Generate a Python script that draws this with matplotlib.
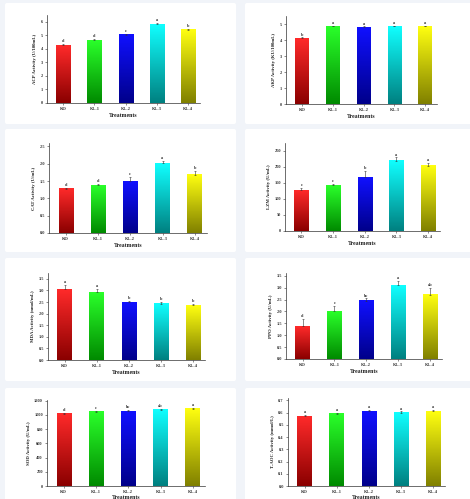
import numpy as np
import matplotlib
matplotlib.use('Agg')
import matplotlib.pyplot as plt
from matplotlib.colors import LinearSegmentedColormap
from matplotlib.patches import FancyBboxPatch

W, H = 470, 499

treatments = ['KO', 'KL-1', 'KL-2', 'KL-3', 'KL-4']

acp_mean = [4.25, 4.65, 5.05, 5.80, 5.40]
acp_err = [0.08, 0.06, 0.06, 0.10, 0.10]
acp_sig = ['d', 'd', 'c', 'a', 'b']

akp_mean = [4.10, 4.85, 4.80, 4.85, 4.85]
akp_err = [0.06, 0.05, 0.05, 0.05, 0.05]
akp_sig = ['b', 'a', 'a', 'a', 'a']

cat_mean = [1.28, 1.38, 1.50, 2.02, 1.68]
cat_err = [0.03, 0.03, 0.13, 0.06, 0.10]
cat_sig = ['d', 'd', 'c', 'a', 'b']

lzm_mean = [128, 143, 168, 220, 204]
lzm_err = [6, 5, 20, 10, 8]
lzm_sig = ['c', 'c', 'b', 'a', 'a']

mda_mean = [3.05, 2.92, 2.50, 2.42, 2.35]
mda_err = [0.20, 0.15, 0.05, 0.10, 0.05]
mda_sig = ['a', 'a', 'b', 'b', 'b']

ppo_mean = [1.38, 2.00, 2.45, 3.10, 2.70]
ppo_err = [0.30, 0.25, 0.10, 0.20, 0.30]
ppo_sig = ['d', 'c', 'bc', 'a', 'ab']

sod_mean = [1015, 1045, 1055, 1075, 1085]
sod_err = [15, 12, 12, 12, 12]
sod_sig = ['d', 'c', 'bc', 'ab', 'a']

taoc_mean = [0.57, 0.59, 0.61, 0.60, 0.61]
taoc_err = [0.01, 0.01, 0.01, 0.01, 0.01]
taoc_sig = ['a', 'a', 'a', 'a', 'a']

# bright (top) -> dark (bottom) per treatment
bar_top = ['#ff2a2a', '#2aff2a', '#1010ff', '#10ffff', '#ffff10']
bar_bot = ['#8a0000', '#008a00', '#00008a', '#008080', '#808000']

panels = [
    # mean, err, sig, ylabel, ymax, ticks, fmt, axes px (left, bottom, right, top)
    (acp_mean, acp_err, acp_sig, 'ACP Activity (U/100mL)', 6.5, np.arange(0, 7, 1), '%d', (47, 103, 200, 15)),
    (akp_mean, akp_err, akp_sig, 'AKP Activity (KU/100mL)', 5.5, np.arange(0, 6, 1), '%d', (286, 104, 437, 16)),
    (cat_mean, cat_err, cat_sig, 'CAT Activity (U/mL)', 2.6, np.arange(0, 2.51, 0.5), '%.1f', (49, 233, 207, 143)),
    (lzm_mean, lzm_err, lzm_sig, 'LZM Activity (U/mL)', 275, np.arange(0, 251, 50), '%d', (285, 231, 440, 143)),
    (mda_mean, mda_err, mda_sig, 'MDA Activity (nmol/mL)', 3.75, np.arange(0, 3.51, 0.5), '%.1f', (48, 360, 205, 273)),
    (ppo_mean, ppo_err, ppo_sig, 'PPO Activity (U/mL)', 3.62, np.arange(0, 3.51, 0.5), '%.1f', (286, 359, 442, 273)),
    (sod_mean, sod_err, sod_sig, 'SOD Activity (U/mL)', 1210, np.arange(0, 1201, 200), '%d', (47, 486, 205, 400)),
    (taoc_mean, taoc_err, taoc_sig, 'T-AOC Activity (mmol/L)', 0.72, np.arange(0, 0.71, 0.1), '%.1f', (288, 486, 445, 398)),
]

cards = [
    (5, 3, 236, 124), (245, 3, 472, 124),
    (5, 129, 236, 252), (245, 129, 472, 252),
    (5, 258, 236, 381), (245, 258, 472, 381),
    (5, 388, 236, 510), (245, 388, 472, 510),
]

plt.rcParams['font.family'] = ['Liberation Serif', 'DejaVu Serif']
plt.rcParams['font.weight'] = 'bold'

fig = plt.figure(figsize=(W / 100, H / 100), dpi=100)
fig.patch.set_facecolor('#f1f4f9')

for x0, y0, x1, y1 in cards:
    fig.add_artist(FancyBboxPatch(
        (x0 / W, 1 - y1 / H), (x1 - x0) / W, (y1 - y0) / H,
        boxstyle='round,pad=0,rounding_size=0.004',
        transform=fig.transFigure, facecolor='white', edgecolor='none', zorder=-5))

x = np.arange(len(treatments))
bw = 0.45

for k, (mean, err, sig, ylab, ymax, ticks, fmt, (l, b, r, t)) in enumerate(panels):
    ax = fig.add_axes([l / W, 1 - b / H, (r - l) / W, (b - t) / H])
    ax.set_facecolor('none')
    ax.set_zorder(1)
    for i in range(len(treatments)):
        cmap = LinearSegmentedColormap.from_list('g', [bar_bot[i], bar_top[i]])
        grad = np.linspace(0, 1, 128).reshape(-1, 1)
        ax.imshow(grad, cmap=cmap, origin='lower', aspect='auto',
                  extent=[x[i] - bw / 2, x[i] + bw / 2, 0, mean[i]], zorder=2)
        ax.errorbar(x[i], mean[i], yerr=[[0], [err[i]]], fmt='none',
                    ecolor='#333333', elinewidth=0.4, capsize=1.0, capthick=0.4, zorder=3)
        ax.text(x[i], mean[i] + err[i] + ymax * 0.01, sig[i], ha='center', va='bottom',
                fontsize=3.2, color='#333333', zorder=4)
    ax.set_xlim(-0.52, 4.38)
    ax.set_ylim(0, ymax)
    ax.set_xticks(x)
    ax.set_xticklabels(treatments)
    ax.set_yticks(ticks)
    ax.set_yticklabels([fmt % v for v in ticks])
    for s in ['top', 'right']:
        ax.spines[s].set_visible(False)
    for s in ['left', 'bottom']:
        ax.spines[s].set_linewidth(0.5)
        ax.spines[s].set_color('#333333')
    ax.tick_params(direction='out', length=1.5, width=0.4, pad=1.5,
                   labelsize=3.2, colors='#333333')
    ax.set_ylabel(ylab, fontsize=3.4, fontweight='bold', labelpad=2.5, color='#222222')
    ax.set_xlabel('Treatments', fontsize=4.2, fontweight='bold',
                  labelpad=0.8 if k >= 6 else 1.5, color='#222222')

fig.savefig('out.png', dpi=100, facecolor=fig.get_facecolor())
